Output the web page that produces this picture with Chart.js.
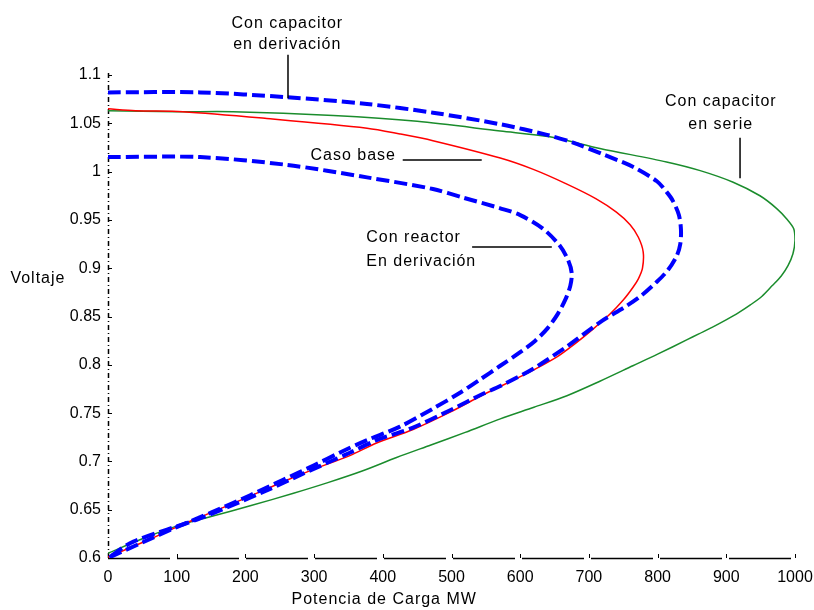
<!DOCTYPE html>
<html>
<head>
<meta charset="utf-8">
<title>Curvas PV</title>
<script src="https://cdn.jsdelivr.net/npm/chart.js@4.4.1/dist/chart.umd.min.js"></script>
<style>
  html, body { margin: 0; padding: 0; background: #fff; }
  #wrap { width: 814px; height: 610px; }
</style>
</head>
<body>
<div id="wrap"><canvas id="pv" width="814" height="610"></canvas></div>
<script>
// ==================== DATA ====================
// Potencia (MW) y voltaje (pu), recorrido: rama superior -> nariz -> rama inferior
const serieP = [0, 100, 182, 328, 450, 571, 643, 716, 813, 862, 910, 949, 973, 988, 998, 1000,
  997, 990, 980, 967, 952, 935, 918, 901, 880, 860, 843, 800, 764, 716, 668, 620, 571, 520, 470, 420, 370, 320, 270, 207, 150, 100, 50, 0];
const serieV = [1.063, 1.062, 1.062, 1.058, 1.052, 1.042, 1.036, 1.024, 1.010, 1.001, 0.989, 0.975, 0.962, 0.951, 0.941, 0.929,
  0.915, 0.903, 0.892, 0.882, 0.871, 0.862, 0.854, 0.847, 0.839, 0.832, 0.826, 0.811, 0.799, 0.783, 0.768, 0.756, 0.744, 0.730, 0.717, 0.704, 0.690, 0.678, 0.667, 0.654, 0.643, 0.633, 0.620, 0.605];

const baseP = [0, 40, 109, 231, 377, 425, 473, 571, 620, 668, 710, 740, 760, 772, 779,
  778, 772, 764, 750, 730, 706, 680, 653, 604, 546, 498, 444, 391, 352, 300, 255, 207, 150, 100, 50, 0];
const baseV = [1.065, 1.063, 1.062, 1.055, 1.045, 1.039, 1.032, 1.014, 1.002, 0.987, 0.972, 0.958, 0.945, 0.932, 0.917,
  0.900, 0.889, 0.880, 0.867, 0.852, 0.837, 0.822, 0.808, 0.789, 0.769, 0.751, 0.733, 0.719, 0.706, 0.692, 0.679, 0.664, 0.647, 0.632, 0.616, 0.601];

const capDerP = [0, 134, 260, 377, 473, 571, 639, 677, 720, 764, 799, 813, 822, 831, 834, 833,
  828, 815, 799, 777, 755, 716, 668, 619, 571, 546, 498, 444, 391, 352, 280, 231, 134, 37, 0];
const capDerV = [1.082, 1.082, 1.077, 1.070, 1.061, 1.049, 1.038, 1.030, 1.018, 1.005, 0.990, 0.979, 0.970, 0.955, 0.940, 0.925,
  0.913, 0.898, 0.886, 0.872, 0.861, 0.844, 0.819, 0.796, 0.778, 0.770, 0.753, 0.735, 0.722, 0.709, 0.686, 0.670, 0.641, 0.617, 0.600];

const reactorP = [0, 134, 260, 377, 473, 517, 571, 600, 633, 658, 670, 675,
  673, 666, 655, 640, 622, 600, 571, 540, 510, 474, 425, 377, 340, 300, 255, 207, 150, 100, 50, 0];
const reactorV = [1.015, 1.015, 1.007, 0.994, 0.982, 0.973, 0.962, 0.955, 0.941, 0.923, 0.908, 0.895,
  0.882, 0.868, 0.853, 0.838, 0.825, 0.813, 0.799, 0.784, 0.770, 0.755, 0.736, 0.722, 0.710, 0.696, 0.681, 0.665, 0.647, 0.632, 0.616, 0.600];

const xTickValues = [0, 100, 200, 300, 400, 500, 600, 700, 800, 900, 1000];
const xTickLabels = ['0', '100', '200', '300', '400', '500', '600', '700', '800', '900', '1000'];
const yTickValues = [0.6, 0.65, 0.7, 0.75, 0.8, 0.85, 0.9, 0.95, 1.0, 1.05, 1.1];
const yTickLabels = ['0.6', '0.65', '0.7', '0.75', '0.8', '0.85', '0.9', '0.95', '1', '1.05', '1.1'];

const toPoints = (xs, ys) => xs.map((x, i) => ({ x: x, y: ys[i] }));

// Anotaciones en coordenadas de datos (P, V)
const notes = [
  { lines: ['Con capacitor', 'en derivación'], p: 261, v: [1.153, 1.131], align: 'center',
    leader: [[262, 1.121], [262, 1.076]] },
  { lines: ['Caso base'], p: 357, v: [1.017], align: 'center',
    leader: [[429, 1.012], [544, 1.012]] },
  { lines: ['Con reactor', 'En derivación'], p: 376, v: [0.932, 0.907], align: 'left',
    leader: [[530, 0.922], [646, 0.922]] },
  { lines: ['Con capacitor', 'en serie'], p: 892, v: [1.072, 1.049], align: 'center',
    leader: [[920, 1.035], [920, 0.993]] },
  { lines: ['Voltaje'], p: -102, v: [0.889], align: 'center' },
  { lines: ['Potencia de Carga MW'], p: 402, v: [0.5565], align: 'center' }
];

const FONT = '"Liberation Sans", Arial, sans-serif';

// Ejes (punto-raya a la izquierda, línea cortada abajo) y marcas hacia adentro
const axesPlugin = {
  id: 'axes',
  beforeDatasetsDraw(chart) {
    const { ctx, chartArea: a, scales: { x, y } } = chart;
    ctx.save();
    ctx.strokeStyle = '#000';
    ctx.lineWidth = 1.5;
    ctx.setLineDash([5, 3, 1, 3]);
    ctx.beginPath();
    ctx.moveTo(a.left + 0.5, a.bottom);
    ctx.lineTo(a.left + 0.5, a.top - 2);
    ctx.stroke();
    ctx.setLineDash([62, 7]);
    ctx.beginPath();
    ctx.moveTo(a.left, a.bottom + 0.5);
    ctx.lineTo(a.right, a.bottom + 0.5);
    ctx.stroke();
    ctx.setLineDash([]);
    ctx.lineWidth = 1;
    ctx.beginPath();
    yTickValues.forEach(v => {
      const py = Math.round(y.getPixelForValue(v)) + 0.5;
      ctx.moveTo(a.left, py);
      ctx.lineTo(a.left + 4, py);
    });
    xTickValues.forEach(p => {
      const px = Math.round(x.getPixelForValue(p)) + 0.5;
      ctx.moveTo(px, a.bottom);
      ctx.lineTo(px, a.bottom - 4);
    });
    ctx.stroke();
    ctx.restore();
  }
};

// Textos y líneas guía
const notesPlugin = {
  id: 'notes',
  afterDraw(chart) {
    const { ctx, scales: { x, y } } = chart;
    ctx.save();
    ctx.fillStyle = '#000';
    ctx.strokeStyle = '#000';
    ctx.font = '16px ' + FONT;
    ctx.letterSpacing = '1px';
    ctx.textBaseline = 'middle';
    notes.forEach(n => {
      ctx.textAlign = n.align;
      const px = x.getPixelForValue(n.p);
      n.lines.forEach((t, i) => ctx.fillText(t, px, y.getPixelForValue(n.v[i])));
      if (n.leader) {
        ctx.lineWidth = 1.5;
        ctx.beginPath();
        ctx.moveTo(x.getPixelForValue(n.leader[0][0]), y.getPixelForValue(n.leader[0][1]));
        ctx.lineTo(x.getPixelForValue(n.leader[1][0]), y.getPixelForValue(n.leader[1][1]));
        ctx.stroke();
      }
    });
    ctx.restore();
  }
};

const blueLine = {
  borderColor: '#0000ff',
  borderWidth: 4,
  borderDash: [13, 5]
};

new Chart(document.getElementById('pv'), {
  type: 'scatter',
  data: {
    datasets: [
      { label: 'Con reactor en derivación', data: toPoints(reactorP, reactorV), ...blueLine },
      { label: 'Con capacitor en derivación', data: toPoints(capDerP, capDerV), ...blueLine },
      { label: 'Caso base', data: toPoints(baseP, baseV), borderColor: '#ff0000', borderWidth: 1.5 },
      { label: 'Con capacitor en serie', data: toPoints(serieP, serieV), borderColor: '#1a8c2c', borderWidth: 1.5 }
    ]
  },
  options: {
    responsive: false,
    animation: false,
    showLine: true,
    elements: {
      point: { radius: 0, hoverRadius: 0 },
      line: { tension: 0.3, fill: false }
    },
    layout: { padding: { top: 75, right: 19, left: 0, bottom: 0 } },
    plugins: { legend: { display: false }, tooltip: { enabled: false } },
    scales: {
      x: {
        type: 'linear',
        min: 0, max: 1000,
        grid: { display: false, drawTicks: false },
        border: { display: false },
        afterBuildTicks: s => { s.ticks = xTickValues.map(v => ({ value: v })); },
        afterFit: s => { s.height = 52; s.paddingLeft = 0; s.paddingRight = 0; },
        ticks: {
          color: '#000',
          padding: 10,
          font: { family: FONT, size: 16 },
          maxRotation: 0,
          callback: v => xTickLabels[xTickValues.indexOf(v)]
        }
      },
      y: {
        type: 'linear',
        min: 0.6, max: 1.1,
        grid: { display: false, drawTicks: false },
        border: { display: false },
        afterBuildTicks: s => { s.ticks = yTickValues.map(v => ({ value: v })); },
        afterFit: s => { s.width = 108; s.paddingTop = 0; s.paddingBottom = 0; },
        ticks: {
          color: '#000',
          padding: 7,
          font: { family: FONT, size: 16 },
          callback: v => yTickLabels[yTickValues.findIndex(t => Math.abs(t - v) < 1e-9)]
        }
      }
    }
  },
  plugins: [axesPlugin, notesPlugin]
});
</script>
</body>
</html>
